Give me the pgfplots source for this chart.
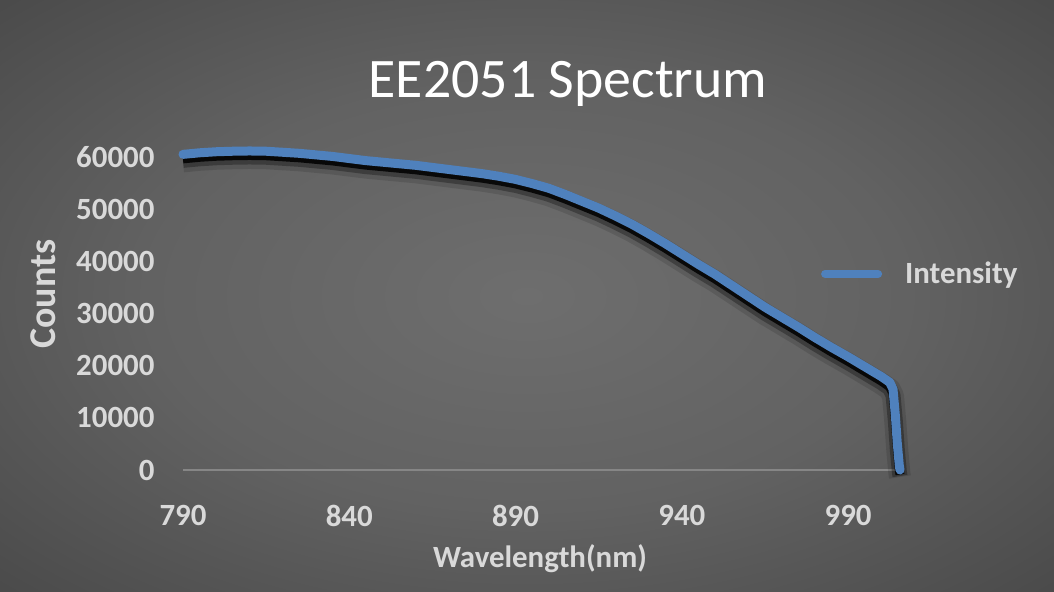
\documentclass[border=0pt]{standalone}
\usepackage{pgfplots}
\usepackage{pgfplotstable}
\usepackage{fontspec}
\setmainfont{Carlito}
\pgfplotsset{compat=1.18}

\definecolor{lbl}{HTML}{D9D9D9}
\definecolor{xblue}{HTML}{4F81BD}
\definecolor{axgray}{HTML}{868686}
\definecolor{bga}{HTML}{6E6E6E}
\definecolor{bgb}{HTML}{626262}
\definecolor{bgc}{HTML}{474747}
\definecolor{bgd}{HTML}{343434}
\definecolor{bge}{HTML}{252525}

% fond : dégradé radial façon Excel
\pgfdeclareradialshading{bgshade}{\pgfpoint{0bp}{0bp}}{%
  color(0bp)=(bga); color(18bp)=(bgb); color(38bp)=(bgc);
  color(50bp)=(bgd); color(71bp)=(bge)}

% spectre
\pgfplotstableread{
wl cnt
790 60500
795 60800
800 61000
805 61100
810 61150
815 61100
820 60900
825 60700
830 60400
835 60100
840 59700
845 59300
850 59000
855 58700
860 58400
865 58000
870 57600
875 57200
880 56800
885 56300
890 55700
895 54900
900 54000
905 52800
910 51500
915 50200
920 48700
925 47100
930 45300
935 43400
940 41400
945 39400
950 37500
955 35400
960 33300
965 31200
970 29300
975 27400
980 25400
985 23500
990 21700
995 19800
1000 17900
1002.5 16800
1003.5 15500
1004.2 10500
1004.8 5000
1005.4 800
1005.6 0
}\spec

\begin{document}
\begin{tikzpicture}
\shade[shading=bgshade] (0bp,0bp) rectangle (1054bp,592bp);
\path[use as bounding box] (0bp,0bp) rectangle (1054bp,592bp);
\begin{axis}[
  at={(183bp,122bp)}, anchor=south west,
  scale only axis, width=715bp, height=365.2bp,
  xmin=790, xmax=1005, ymin=0, ymax=70000,
  xtick={790,840,890,940,990},
  ytick={0,10000,20000,30000,40000,50000,60000},
  scaled y ticks=false,
  /pgf/number format/1000 sep={},
  /pgf/number format/assume math mode=true,
  axis x line=bottom, axis y line=left,
  x axis line style={-, draw=axgray, line width=2bp},
  y axis line style={draw=none},
  major tick length=0pt,
  tick style={draw=none},
  ticklabel style={font=\fontsize{31}{36}\selectfont\bfseries, text=lbl},
  xticklabel style={yshift=-32bp},
  yticklabel style={xshift=-25bp},
  clip=false,
  legend style={at={(0.888,0.537)}, anchor=west, draw=none, fill=none,
    text=lbl, font=\fontsize{31}{36}\selectfont\bfseries,
    /tikz/every odd column/.append style={column sep=21bp}},
  legend image code/.code={\draw[xblue, line width=8bp, line cap=round] (0bp,0bp) -- (53bp,0bp);},
]
% ombre portée
\addplot[forget plot, black, opacity=0.12, line width=22bp, line join=round, yshift=-7bp] table[x=wl, y=cnt] {\spec};
\addplot[forget plot, black, opacity=0.3, line width=15bp, line join=round, yshift=-6bp] table[x=wl, y=cnt] {\spec};
\addplot[forget plot, black, opacity=0.85, line width=9bp, line join=round, yshift=-4.5bp] table[x=wl, y=cnt] {\spec};
\addplot[xblue, line width=9bp, line join=round, line cap=round] table[x=wl, y=cnt] {\spec};
\addlegendentry{Intensity}
\end{axis}
\node[anchor=base, text=white, font=\fontsize{56}{60}\selectfont] at (568bp,494bp) {EE2051 Spectrum};
\node[anchor=base, text=lbl, font=\fontsize{31}{36}\selectfont\bfseries] at (540bp,25bp) {Wavelength(nm)};
\node[anchor=base, rotate=90, text=lbl, font=\fontsize{38}{44}\selectfont\bfseries] at (55bp,298bp) {Counts};
\end{tikzpicture}
\end{document}
